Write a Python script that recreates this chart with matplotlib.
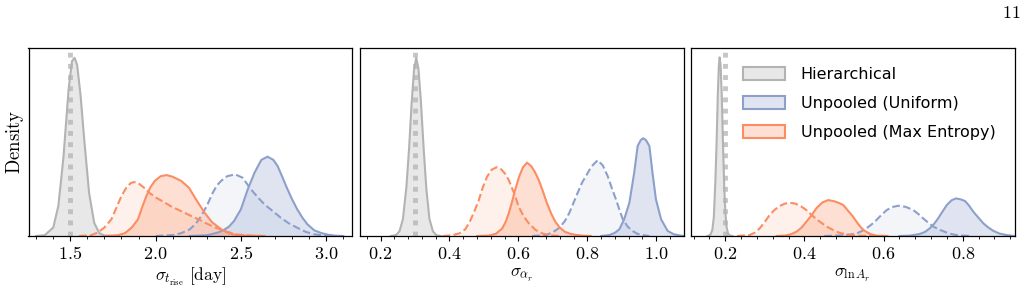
import matplotlib
matplotlib.use("Agg")
import matplotlib.pyplot as plt
from matplotlib.ticker import AutoMinorLocator, MultipleLocator, FuncFormatter
from matplotlib.patches import Patch

plt.rcParams['mathtext.fontset'] = 'cm'
plt.rcParams['font.family'] = ['DejaVu Sans']

# ---------------- data (relative density) ----------------
# Panel 1: sigma_t_rise
p1_hier_x = [1.30, 1.35, 1.40, 1.43, 1.46, 1.49, 1.51, 1.525, 1.54, 1.56, 1.58, 1.61, 1.64, 1.67, 1.70, 1.74]
p1_hier_y = [0.0, 0.004, 0.045, 0.16, 0.42, 0.78, 0.93, 0.948, 0.91, 0.75, 0.53, 0.23, 0.07, 0.015, 0.002, 0.0]
p1_unif_x = [2.20, 2.30, 2.33, 2.37, 2.40, 2.43, 2.46, 2.50, 2.54, 2.58, 2.62, 2.656, 2.69, 2.715, 2.74, 2.77, 2.80, 2.83, 2.86, 2.89, 2.93, 2.97, 3.01, 3.05, 3.10]
p1_unif_y = [0.0, 0.004, 0.01, 0.02, 0.032, 0.05, 0.08, 0.142, 0.248, 0.337, 0.405, 0.422, 0.405, 0.372, 0.32, 0.255, 0.195, 0.142, 0.098, 0.062, 0.03, 0.016, 0.007, 0.002, 0.0]
p1_unifd_x = [2.00, 2.10, 2.15, 2.20, 2.235, 2.267, 2.30, 2.335, 2.36, 2.384, 2.42, 2.466, 2.51, 2.559, 2.60, 2.637, 2.69, 2.734, 2.78, 2.83, 2.88, 2.93, 2.98, 3.05]
p1_unifd_y = [0.0, 0.005, 0.015, 0.035, 0.065, 0.106, 0.16, 0.23, 0.27, 0.293, 0.318, 0.328, 0.31, 0.248, 0.205, 0.169, 0.13, 0.097, 0.068, 0.044, 0.022, 0.009, 0.003, 0.0]
p1_maxe_x = [1.70, 1.78, 1.82, 1.86, 1.897, 1.92, 1.946, 1.97, 1.995, 2.03, 2.065, 2.10, 2.15, 2.195, 2.24, 2.287, 2.33, 2.384, 2.43, 2.48, 2.55, 2.62]
p1_maxe_y = [0.0, 0.004, 0.015, 0.045, 0.089, 0.15, 0.213, 0.26, 0.293, 0.318, 0.324, 0.315, 0.293, 0.257, 0.19, 0.124, 0.074, 0.036, 0.014, 0.004, 0.001, 0.0]
p1_maxed_x = [1.55, 1.62, 1.66, 1.70, 1.741, 1.77, 1.80, 1.83, 1.855, 1.874, 1.90, 1.935, 1.967, 2.00, 2.04, 2.092, 2.15, 2.21, 2.26, 2.30, 2.35, 2.415, 2.48, 2.56, 2.65]
p1_maxed_y = [0.0, 0.004, 0.018, 0.045, 0.089, 0.15, 0.213, 0.26, 0.282, 0.287, 0.28, 0.255, 0.227, 0.205, 0.185, 0.157, 0.132, 0.106, 0.085, 0.066, 0.045, 0.023, 0.008, 0.002, 0.0]

# Panel 2: sigma_alpha_r
p2_hier_x = [0.23, 0.245, 0.255, 0.265, 0.275, 0.283, 0.29, 0.297, 0.3035, 0.31, 0.317, 0.325, 0.333, 0.342, 0.352, 0.362, 0.375]
p2_hier_y = [0.0, 0.005, 0.025, 0.09, 0.26, 0.47, 0.70, 0.88, 0.948, 0.89, 0.72, 0.47, 0.25, 0.09, 0.025, 0.004, 0.0]
p2_unif_x = [0.84, 0.864, 0.88, 0.893, 0.907, 0.922, 0.936, 0.946, 0.955, 0.962, 0.97, 0.98, 0.989, 0.999, 1.014, 1.033, 1.05, 1.067, 1.08]
p2_unif_y = [0.0, 0.005, 0.017, 0.036, 0.089, 0.177, 0.337, 0.479, 0.51, 0.52, 0.51, 0.479, 0.337, 0.195, 0.089, 0.027, 0.01, 0.003, 0.0]
p2_unifd_x = [0.64, 0.68, 0.70, 0.719, 0.735, 0.748, 0.76, 0.772, 0.785, 0.796, 0.812, 0.83, 0.845, 0.859, 0.871, 0.883, 0.893, 0.903, 0.917, 0.931, 0.945, 0.96, 0.98]
p2_unifd_y = [0.0, 0.005, 0.02, 0.044, 0.08, 0.124, 0.177, 0.23, 0.285, 0.319, 0.37, 0.403, 0.375, 0.319, 0.255, 0.195, 0.14, 0.089, 0.05, 0.027, 0.012, 0.005, 0.0]
p2_maxe_x = [0.48, 0.514, 0.535, 0.553, 0.563, 0.572, 0.582, 0.591, 0.602, 0.613, 0.625, 0.637, 0.648, 0.659, 0.671, 0.683, 0.695, 0.707, 0.72, 0.735, 0.75, 0.767, 0.785, 0.81]
p2_maxe_y = [0.0, 0.002, 0.012, 0.04, 0.075, 0.12, 0.185, 0.248, 0.315, 0.365, 0.39, 0.372, 0.34, 0.298, 0.238, 0.174, 0.12, 0.076, 0.045, 0.022, 0.012, 0.006, 0.002, 0.0]
p2_maxed_x = [0.38, 0.408, 0.43, 0.446, 0.46, 0.473, 0.485, 0.497, 0.509, 0.522, 0.537, 0.55, 0.562, 0.572, 0.587, 0.601, 0.615, 0.63, 0.65, 0.669, 0.69, 0.72]
p2_maxed_y = [0.0, 0.004, 0.015, 0.036, 0.08, 0.135, 0.19, 0.26, 0.315, 0.352, 0.366, 0.355, 0.33, 0.298, 0.23, 0.156, 0.105, 0.068, 0.032, 0.014, 0.004, 0.0]

# Panel 3: sigma_lnA_r
p3_hier_x = [0.155, 0.162, 0.167, 0.171, 0.175, 0.178, 0.181, 0.1835, 0.1856, 0.188, 0.191, 0.194, 0.197, 0.200, 0.203, 0.207, 0.212, 0.218]
p3_hier_y = [0.0, 0.006, 0.03, 0.10, 0.30, 0.50, 0.75, 0.90, 0.95, 0.91, 0.75, 0.50, 0.28, 0.13, 0.05, 0.012, 0.002, 0.0]
p3_unif_x = [0.64, 0.667, 0.692, 0.705, 0.717, 0.728, 0.738, 0.749, 0.76, 0.772, 0.783, 0.795, 0.806, 0.816, 0.827, 0.84, 0.852, 0.865, 0.877, 0.893, 0.911, 0.93]
p3_unif_y = [0.0, 0.002, 0.011, 0.022, 0.041, 0.065, 0.094, 0.13, 0.165, 0.19, 0.20, 0.195, 0.186, 0.162, 0.129, 0.097, 0.068, 0.045, 0.028, 0.013, 0.005, 0.0]
p3_unifd_x = [0.45, 0.49, 0.515, 0.532, 0.545, 0.557, 0.57, 0.582, 0.595, 0.608, 0.622, 0.637, 0.656, 0.675, 0.688, 0.70, 0.713, 0.726, 0.743, 0.76, 0.776, 0.793, 0.82]
p3_unifd_y = [0.0, 0.003, 0.008, 0.014, 0.026, 0.041, 0.062, 0.085, 0.113, 0.138, 0.154, 0.161, 0.155, 0.138, 0.117, 0.094, 0.071, 0.05, 0.032, 0.018, 0.008, 0.003, 0.0]
p3_maxe_x = [0.33, 0.354, 0.367, 0.38, 0.393, 0.405, 0.418, 0.43, 0.445, 0.46, 0.475, 0.488, 0.498, 0.51, 0.523, 0.532, 0.543, 0.553, 0.567, 0.582, 0.61]
p3_maxe_y = [0.0, 0.003, 0.01, 0.023, 0.045, 0.076, 0.11, 0.147, 0.178, 0.191, 0.185, 0.175, 0.165, 0.135, 0.103, 0.075, 0.045, 0.026, 0.01, 0.002, 0.0]
p3_maxed_x = [0.23, 0.261, 0.275, 0.287, 0.30, 0.312, 0.325, 0.338, 0.35, 0.363, 0.377, 0.391, 0.405, 0.42, 0.439, 0.455, 0.472, 0.49, 0.515, 0.55, 0.60]
p3_maxed_y = [0.0, 0.005, 0.018, 0.041, 0.075, 0.112, 0.14, 0.16, 0.172, 0.177, 0.172, 0.158, 0.138, 0.108, 0.076, 0.052, 0.032, 0.016, 0.005, 0.001, 0.0]

true_values = [1.5, 0.3, 0.2]
xlabels = [r"$\sigma_{t_\mathrm{rise}}\ [\mathrm{day}]$", r"$\sigma_{\alpha_r}$", r"$\sigma_{\ln A_r}$"]
xlims = [(1.255, 3.154), (0.139, 1.079), (0.112, 0.931)]
major_steps = [0.5, 0.2, 0.2]
legend_labels = ["Hierarchical", "Unpooled (Uniform)", "Unpooled (Max Entropy)"]

# ---------------- styling ----------------
GREY_LINE = "#b3b3b3"
BLUE = "#8da0cb"
ORANGE = "#fc8d62"
TRUE_COLOR = "#c6c6c6"

fig = plt.figure(figsize=(10.27, 2.96), dpi=100)
W, H = 1027.0, 296.0
lefts = [28.5, 359.5, 690.5]
widths = [324.0, 324.0, 324.0]
top, bottom = 48.0, 236.0

panels = [
    (p1_hier_x, p1_hier_y, p1_unif_x, p1_unif_y, p1_unifd_x, p1_unifd_y,
     p1_maxe_x, p1_maxe_y, p1_maxed_x, p1_maxed_y),
    (p2_hier_x, p2_hier_y, p2_unif_x, p2_unif_y, p2_unifd_x, p2_unifd_y,
     p2_maxe_x, p2_maxe_y, p2_maxed_x, p2_maxed_y),
    (p3_hier_x, p3_hier_y, p3_unif_x, p3_unif_y, p3_unifd_x, p3_unifd_y,
     p3_maxe_x, p3_maxe_y, p3_maxed_x, p3_maxed_y),
]

fmt = FuncFormatter(lambda v, pos: r"$%.1f$" % v)

axes = []
for i, data in enumerate(panels):
    ax = fig.add_axes([lefts[i] / W, 1 - bottom / H, widths[i] / W, (bottom - top) / H])
    axes.append(ax)
    hx, hy, ux, uy, udx, udy, mx, my, mdx, mdy = data
    # hierarchical
    ax.fill_between(hx, hy, 0, color=GREY_LINE, alpha=0.3, lw=0)
    ax.plot(hx, hy, color=GREY_LINE, lw=1.5)
    # unpooled uniform (dashed then solid)
    ax.fill_between(udx, udy, 0, color=BLUE, alpha=0.1, lw=0)
    ax.plot(udx, udy, color=BLUE, lw=1.5, ls="--")
    ax.fill_between(ux, uy, 0, color=BLUE, alpha=0.28, lw=0)
    ax.plot(ux, uy, color=BLUE, lw=1.5)
    # unpooled max entropy
    ax.fill_between(mdx, mdy, 0, color=ORANGE, alpha=0.12, lw=0)
    ax.plot(mdx, mdy, color=ORANGE, lw=1.5, ls="--")
    ax.fill_between(mx, my, 0, color=ORANGE, alpha=0.28, lw=0)
    ax.plot(mx, my, color=ORANGE, lw=1.5)
    # true value
    ax.axvline(true_values[i], color=TRUE_COLOR, lw=3.5, ls=(0, (1, 1.3)), zorder=0.5)

    ax.set_xlim(*xlims[i])
    ax.set_ylim(0, 1.0)
    ax.set_yticks([])
    ax.xaxis.set_major_locator(MultipleLocator(major_steps[i]))
    ax.xaxis.set_minor_locator(AutoMinorLocator(5))
    ax.xaxis.set_major_formatter(fmt)
    ax.tick_params(axis="x", which="major", direction="out", length=3.5, width=0.8,
                   labelsize=13, pad=3)
    ax.tick_params(axis="x", which="minor", direction="out", length=2, width=0.6)
    for s in ax.spines.values():
        s.set_linewidth(0.9)
    ax.set_xlabel(xlabels[i], fontsize=12.5, labelpad=2)

axes[0].set_ylabel(r"$\mathrm{Density}$", fontsize=13.5, labelpad=2)

handles = [
    Patch(facecolor=(0.70, 0.70, 0.70, 0.3), edgecolor=GREY_LINE, lw=1.5),
    Patch(facecolor=(0x8d / 255, 0xa0 / 255, 0xcb / 255, 0.28), edgecolor=BLUE, lw=1.5),
    Patch(facecolor=(0xfc / 255, 0x8d / 255, 0x62 / 255, 0.28), edgecolor=ORANGE, lw=1.5),
]
axes[2].legend(handles, legend_labels, loc="upper right", frameon=False, fontsize=11.5,
               handlelength=2.6, handleheight=0.9, labelspacing=0.85,
               borderaxespad=0.8, handletextpad=1.0)

fig.text(1011 / W, 1 - 13 / H, r"$11$", fontsize=13, ha="center", va="center")

fig.savefig("out.png", dpi=100)
